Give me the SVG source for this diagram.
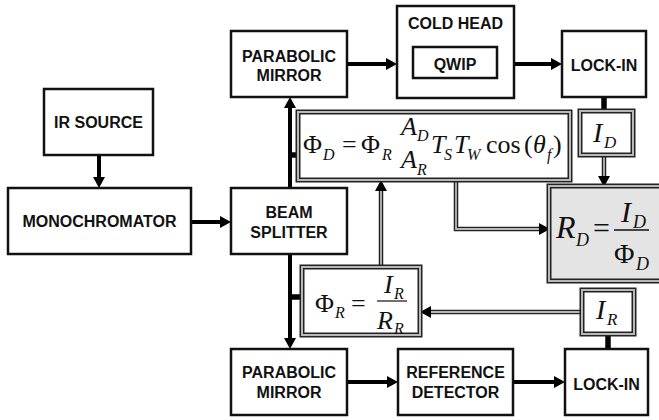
<svg xmlns="http://www.w3.org/2000/svg" width="659" height="420" viewBox="0 0 659 420">
<defs>
<style>
.box{fill:#fff;stroke:#111;stroke-width:2.5}
.lbl{font-family:"Liberation Sans",Arial,sans-serif;font-weight:bold;font-size:16px;fill:#111;text-anchor:middle}
.dbo{fill:none;stroke:#222;stroke-width:5}
.dbi{fill:none;stroke:#b8b8b8;stroke-width:2}
.thick{fill:none;stroke:#000;stroke-width:4}
.stub{fill:none;stroke:#000;stroke-width:5.5}
.dlo{fill:none;stroke:#222;stroke-width:4.5}
.dli{fill:none;stroke:#b8b8b8;stroke-width:1.8}
.m{font-family:"Liberation Serif","Times New Roman",serif;fill:#111}
.it{font-style:italic}
</style>
<marker id="ah" markerUnits="userSpaceOnUse" markerWidth="11" markerHeight="12" refX="0" refY="6" orient="auto">
<path d="M0,0 L11,6 L0,12 z" fill="#000"/>
</marker>
</defs>

<g id="connectors">
<path class="thick" d="M99,155 V177" marker-end="url(#ah)"/>
<path class="thick" d="M191,222 H220" marker-end="url(#ah)"/>
<path class="thick" d="M290,188 V108" marker-end="url(#ah)"/>
<path class="thick" d="M290,254 V338" marker-end="url(#ah)"/>
<path class="stub" d="M290,155 H299"/>
<path class="stub" d="M290,297 H303"/>
<path class="thick" d="M347,64 H386" marker-end="url(#ah)"/>
<path class="thick" d="M514,64 H551" marker-end="url(#ah)"/>
<path class="thick" d="M347,382 H387" marker-end="url(#ah)"/>
<path class="thick" d="M513,382 H554" marker-end="url(#ah)"/>
<path class="stub" d="M604,97 V111"/>
<path class="stub" d="M608,334 V349"/>
<path class="dlo" d="M604,157 V176" marker-end="url(#ah)"/>
<path class="dli" d="M604,157 V176"/>
<path class="dlo" d="M456,182 V229 H539" marker-end="url(#ah)"/>
<path class="dli" d="M456,182 V229 H539"/>
<path class="dlo" d="M381,265 V191" marker-end="url(#ah)"/>
<path class="dli" d="M381,265 V191"/>
<path class="dlo" d="M580,312 H431" marker-end="url(#ah)"/>
<path class="dli" d="M580,312 H431"/>
</g>

<g id="ir-source">
<rect class="box" x="44" y="89" width="109" height="66"/>
<text class="lbl" x="98.5" y="128">IR SOURCE</text>
</g>
<g id="monochromator">
<rect class="box" x="8" y="188" width="183" height="66"/>
<text class="lbl" x="99.5" y="227">MONOCHROMATOR</text>
</g>
<g id="parabolic-mirror-top">
<rect class="box" x="231" y="31" width="116" height="66"/>
<text class="lbl" x="289" y="62">PARABOLIC</text>
<text class="lbl" x="289" y="81">MIRROR</text>
</g>
<g id="beam-splitter">
<rect class="box" x="231" y="188" width="116" height="66"/>
<text class="lbl" x="289" y="218">BEAM</text>
<text class="lbl" x="289" y="238">SPLITTER</text>
</g>
<g id="parabolic-mirror-bottom">
<rect class="box" x="231" y="349" width="116" height="66"/>
<text class="lbl" x="289" y="378">PARABOLIC</text>
<text class="lbl" x="289" y="398">MIRROR</text>
</g>
<g id="cold-head">
<rect class="box" x="397" y="6" width="117" height="92"/>
<text class="lbl" x="455.5" y="29">COLD HEAD</text>
<rect class="box" x="413" y="47" width="84" height="31"/>
<text class="lbl" x="455" y="70">QWIP</text>
</g>
<g id="lock-in-top">
<rect class="box" x="562" y="31" width="84" height="66"/>
<text class="lbl" x="604" y="71">LOCK-IN</text>
</g>
<g id="reference-detector">
<rect class="box" x="398" y="349" width="115" height="66"/>
<text class="lbl" x="455.5" y="378">REFERENCE</text>
<text class="lbl" x="455.5" y="398">DETECTOR</text>
</g>
<g id="lock-in-bottom">
<rect class="box" x="565" y="349" width="83" height="66"/>
<text class="lbl" x="606.5" y="390">LOCK-IN</text>
</g>

<g id="phi-d">
<rect x="298" y="112" width="272" height="68" fill="#fff"/>
<rect class="dbo" x="298" y="112" width="272" height="68"/>
<rect class="dbi" x="298" y="112" width="272" height="68"/>
<text class="m" font-size="26" x="303" y="153">Φ</text>
<text class="m it" font-size="16" x="323" y="160">D</text>
<text class="m" font-size="26" x="342" y="153">=</text>
<text class="m" font-size="26" x="361" y="153">Φ</text>
<text class="m it" font-size="16" x="382" y="160">R</text>
<text class="m it" font-size="26" x="401" y="135">A</text>
<text class="m it" font-size="16" x="417" y="141">D</text>
<text class="m it" font-size="26" x="401" y="168">A</text>
<text class="m it" font-size="16" x="417" y="175">R</text>
<text class="m it" font-size="26" x="431" y="153">T</text>
<text class="m it" font-size="16" x="444" y="160">S</text>
<text class="m it" font-size="26" x="454" y="153">T</text>
<text class="m it" font-size="16" x="467" y="160">W</text>
<text class="m" font-size="26" x="486" y="153">cos</text>
<text class="m" font-size="26" x="524" y="153">(</text>
<text class="m it" font-size="26" x="533" y="153">θ</text>
<text class="m it" font-size="16" x="547" y="160">f</text>
<text class="m" font-size="26" x="553" y="153">)</text>
</g>

<g id="i-d">
<rect x="580" y="111" width="53" height="44" fill="#fff"/>
<rect class="dbo" x="580" y="111" width="53" height="44"/>
<rect class="dbi" x="580" y="111" width="53" height="44"/>
<text class="m it" font-size="28" x="593" y="142">I</text>
<text class="m it" font-size="17" x="604" y="148">D</text>
</g>

<g id="r-d">
<rect x="549" y="186" width="124" height="95" fill="#e4e4e4"/>
<rect class="dbo" x="549" y="186" width="124" height="95"/>
<rect class="dbi" x="549" y="186" width="124" height="95"/>
<text class="m it" font-size="32" x="556" y="238">R</text>
<text class="m it" font-size="18" x="576" y="246">D</text>
<text class="m" font-size="30" x="593" y="238">=</text>
<line x1="614" y1="230" x2="649" y2="230" stroke="#111" stroke-width="1.3"/>
<text class="m it" font-size="30" x="621" y="222">I</text>
<text class="m it" font-size="18" x="633" y="228">D</text>
<text class="m" font-size="28" x="614" y="263">Φ</text>
<text class="m it" font-size="18" x="636" y="270">D</text>
</g>

<g id="phi-r">
<rect x="302" y="267" width="118" height="68" fill="#fff"/>
<rect class="dbo" x="302" y="267" width="118" height="68"/>
<rect class="dbi" x="302" y="267" width="118" height="68"/>
<text class="m" font-size="26" x="315" y="312">Φ</text>
<text class="m it" font-size="16" x="335" y="318">R</text>
<text class="m" font-size="26" x="351" y="312">=</text>
<line x1="377" y1="301" x2="407" y2="301" stroke="#111" stroke-width="1.2"/>
<text class="m it" font-size="26" x="384" y="293">I</text>
<text class="m it" font-size="16" x="394" y="299">R</text>
<text class="m it" font-size="26" x="377" y="329">R</text>
<text class="m it" font-size="16" x="394" y="334">R</text>
</g>

<g id="i-r">
<rect x="582" y="290" width="52" height="44" fill="#fff"/>
<rect class="dbo" x="582" y="290" width="52" height="44"/>
<rect class="dbi" x="582" y="290" width="52" height="44"/>
<text class="m it" font-size="28" x="596" y="319">I</text>
<text class="m it" font-size="17" x="607" y="325">R</text>
</g>
</svg>
